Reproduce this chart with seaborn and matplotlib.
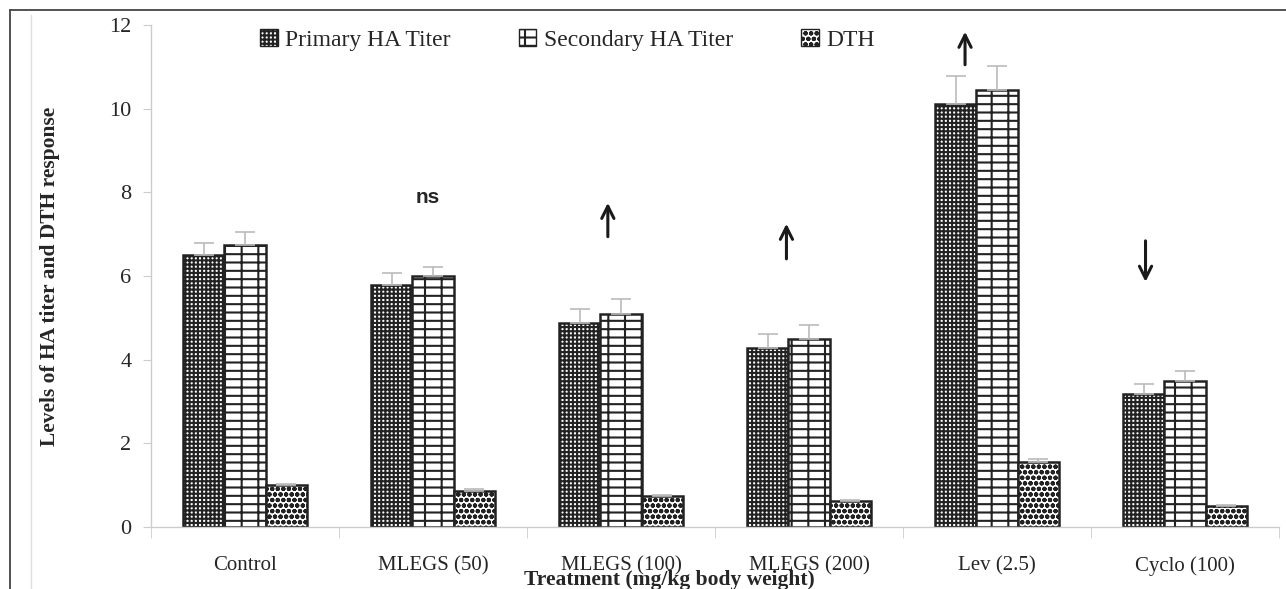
import matplotlib
matplotlib.use("Agg")
import matplotlib.pyplot as plt
import seaborn as sns
import pandas as pd
import numpy as np
from matplotlib.patches import Patch

treatments = ["Control", "MLEGS (50)", "MLEGS (100)", "MLEGS (200)", "Lev (2.5)", "Cyclo (100)"]
series = ["Primary HA Titer", "Secondary HA Titer", "DTH"]
primary = [6.5, 5.78, 4.88, 4.27, 10.12, 3.18]
secondary = [6.75, 6.0, 5.08, 4.5, 10.45, 3.48]
dth = [1.0, 0.87, 0.75, 0.62, 1.55, 0.5]
primary_err = [0.3, 0.3, 0.32, 0.35, 0.67, 0.24]
secondary_err = [0.3, 0.22, 0.37, 0.32, 0.58, 0.25]
dth_err = [0.02, 0.04, 0.02, 0.02, 0.07, 0.02]
# marker: (symbol, x offset, y start, y end)
markers = {1: ("ns", -0.03, 7.87, None),
           2: ("up", -0.07, 6.94, 7.75),
           3: ("up", -0.12, 6.41, 7.25),
           4: ("up", -0.17, 11.05, 11.84),
           5: ("down", -0.21, 6.84, 5.86)}

rows = []
for i, t in enumerate(treatments):
    for s, vals in zip(series, [primary, secondary, dth]):
        rows.append({"Treatment": t, "Series": s, "Value": vals[i]})
df = pd.DataFrame(rows)

sns.set_style("white")
plt.rcParams['font.family'] = ['Liberation Serif', 'DejaVu Serif']
plt.rcParams['hatch.linewidth'] = 1.5

fig = plt.figure(figsize=(12.86, 5.89), dpi=100)
ax = fig.add_axes([151/1286, 1-527/589, 1128/1286, 502/589])

sns.barplot(data=df, x="Treatment", y="Value", hue="Series", order=treatments,
            hue_order=series, palette=["white"]*3, edgecolor="#222222",
            linewidth=1.8, width=0.66, errorbar=None, ax=ax, legend=False)

hatches = ["++++", "--|", "ooo"]
errs = [primary_err, secondary_err, dth_err]
vals_all = [primary, secondary, dth]
bar_containers = list(ax.containers)
for j, cont in enumerate(bar_containers):
    xs = []
    for p in cont.patches:
        p.set_hatch(hatches[j])
        p.set_edgecolor("#222222")
        xs.append(p.get_x() + p.get_width()/2)
    ax.errorbar(xs, vals_all[j], yerr=[np.zeros(len(xs)), errs[j]], fmt="none",
                ecolor="#bbbbbb", elinewidth=1.2, capsize=7, capthick=1.2, zorder=1)

ax.set_ylim(0, 12)
ax.set_xlim(-0.5, 5.5)
ax.set_yticks([0, 2, 4, 6, 8, 10, 12])
ax.tick_params(axis='y', labelsize=16, length=6, color="#cccccc", pad=8, left=True)
ax.set_xticks(range(6))
ax.set_xticklabels(treatments, fontsize=15)
ax.tick_params(axis='x', length=0, pad=21)
ax.set_xticks(np.arange(-0.5, 6, 1), minor=True)
ax.tick_params(axis='x', which='minor', length=8, color="#cccccc", bottom=True)
for s in ["top", "right"]:
    ax.spines[s].set_visible(False)
for s in ["left", "bottom"]:
    ax.spines[s].set_color("#cccccc")
    ax.spines[s].set_linewidth(1)

ax.set_xlabel("Treatment (mg/kg body weight)", fontsize=15.5, fontweight="bold")
ax.xaxis.set_label_coords((669 - 151) / 1128, -0.085)
ax.set_ylabel("Levels of HA titer and DTH response", fontsize=15.5, fontweight="bold")
ax.yaxis.set_label_coords((60 - 151) / 1128, 0.5)

for i, (kind, xo, y0, y1) in markers.items():
    if kind == "ns":
        ax.text(i + xo, y0, "ns", ha="center", va="center", fontsize=15, fontweight="bold",
                family=["Liberation Sans", "DejaVu Sans"])
    else:
        ax.annotate("", xy=(i + xo, y1), xytext=(i + xo, y0), annotation_clip=False,
                    arrowprops=dict(arrowstyle="->", lw=2.2, color="#1a1a1a",
                                    mutation_scale=22, shrinkA=0, shrinkB=0))

handles = [Patch(facecolor="white", edgecolor="#222222", hatch=h, label=s) for h, s in zip(hatches, series)]
ax.legend(handles=handles, loc="center", bbox_to_anchor=(0.369, 0.97), ncol=3, frameon=False,
          fontsize=17, handlelength=0.75, handleheight=0.75, handletextpad=0.3, columnspacing=2.9)

# outer frame (top and left edges)
fig.lines.append(plt.Line2D([10/1286, 1.0], [1-10/589, 1-10/589], transform=fig.transFigure,
                            color="#444444", linewidth=1.3))
fig.lines.append(plt.Line2D([10/1286, 10/1286], [0, 1-10/589], transform=fig.transFigure,
                            color="#444444", linewidth=1.3))
fig.lines.append(plt.Line2D([31/1286, 31/1286], [0, 1-15/589], transform=fig.transFigure,
                            color="#dddddd", linewidth=1))

fig.savefig("out.png", dpi=100)
